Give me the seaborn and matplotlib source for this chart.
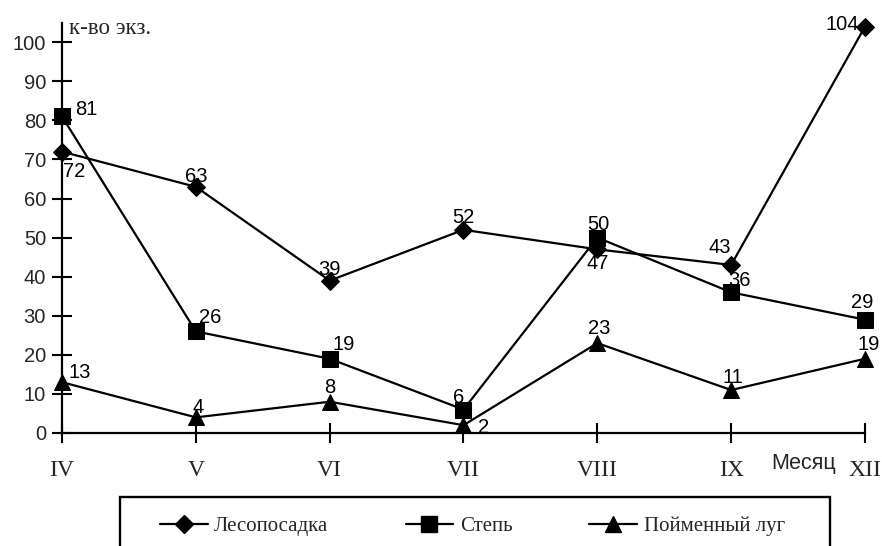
import numpy as np
import pandas as pd
import matplotlib
matplotlib.use("Agg")
import matplotlib.pyplot as plt
from matplotlib.patches import Rectangle
from matplotlib.lines import Line2D
import seaborn as sns

months = ["IV", "V", "VI", "VII", "VIII", "IX", "XII"]
forest = [72, 63, 39, 52, 47, 43, 104]
steppe = [81, 26, 19, 6, 50, 36, 29]
meadow = [13, 4, 8, 2, 23, 11, 19]
series_names = ["Лесопосадка", "Степь", "Пойменный луг"]

# label offsets in pixels (label centre relative to the point)
forest_off = [(12, -20), (0, 10), (0, 11), (0, 12), (0, -14), (-11, 17), (-23, 2)]
steppe_off = [(24, 7), (14, 14), (14, 14), (-5, 12), (1, 13), (8, 12), (-3, 17)]
meadow_off = [(18, 10), (2, 10), (0, 14), (20, -2), (2, 15), (2, 13), (4, 14)]

sns.set_style("white")
plt.rcParams["font.family"] = ["Liberation Sans", "DejaVu Sans"]

fig = plt.figure(figsize=(8.82, 5.46), dpi=100)
ax = fig.add_axes([62 / 882, 113 / 546, 803 / 882, 410.3 / 546])

pos = np.arange(len(months))
df = pd.DataFrame({"pos": pos, "forest": forest, "steppe": steppe, "meadow": meadow})

styles = [("forest", "D", 9, forest_off), ("steppe", "s", 11, steppe_off), ("meadow", "^", 11, meadow_off)]
handles = []
for (col, mk, ms, offs), name in zip(styles, series_names):
    sns.lineplot(data=df, x="pos", y=col, ax=ax, color="black", lw=1.6,
                 marker=mk, markersize=ms, markeredgecolor="black", clip_on=False, zorder=3)
    for i, v in enumerate(df[col]):
        dx, dy = offs[i]
        ax.annotate(str(v), (i, v), xytext=(dx, dy), textcoords="offset pixels",
                    ha="center", va="center", fontsize=14.5, color="black")
    handles.append(Line2D([], [], color="black", lw=1.6, marker=mk, markersize=ms))

ax.set_xlim(0, 6)
ax.set_ylim(0, 105)
ax.set_xticks(pos)
ax.set_xticklabels(months, family="Liberation Serif", fontsize=17)
ax.set_yticks(np.arange(0, 101, 10))
ax.tick_params(axis="y", left=True, labelsize=14.5, direction="inout", length=15, width=1.5,
               pad=4, color="black")
ax.tick_params(axis="x", bottom=True, direction="inout", length=15, width=1.5, pad=12, color="black")
ax.set_xlabel("")
ax.set_ylabel("")
for s in ["top", "right"]:
    ax.spines[s].set_visible(False)
for s in ["left", "bottom"]:
    ax.spines[s].set_color("black")
    ax.spines[s].set_linewidth(1.6)

fig.text(69 / 882, 1 - 28 / 546, "к-во экз.", family="Liberation Serif", fontsize=16.5,
         ha="left", va="center")
fig.text(804 / 882, 1 - 464 / 546, "Месяц", fontsize=15.5, ha="center", va="center")

fig.add_artist(Rectangle((120 / 882, -0.1), 710 / 882, 0.1 + 49 / 546, transform=fig.transFigure,
                         fill=False, edgecolor="black", lw=1.7))
fig.legend(handles, series_names, loc="center left", bbox_to_anchor=(160 / 882, 1 - 526 / 546),
           ncol=3, frameon=False, borderaxespad=0, borderpad=0, handlelength=2.3,
           handletextpad=0.3, columnspacing=3.7,
           prop={"family": "Liberation Serif", "size": 15})

fig.savefig("out.png", dpi=100)
